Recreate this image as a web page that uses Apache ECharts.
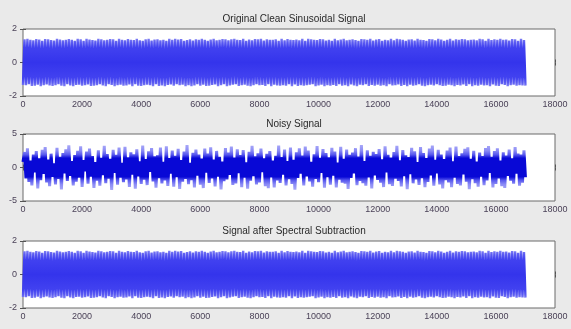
<!DOCTYPE html>
<html>
<head>
<meta charset="utf-8">
<script src="https://cdn.jsdelivr.net/npm/echarts@6/dist/echarts.min.js"></script>
<style>
  html, body { margin: 0; padding: 0; background: #eaeaea; }
  #chart { width: 571px; height: 329px; }
</style>
</head>
<body>
<div id="chart"></div>
<script>
// samples are plotted every 50th index (0 .. 17000)
const step = 50
const xTicks = [0, 2000, 4000, 6000, 8000, 10000, 12000, 14000, 16000, 18000]
const titles = ['Original Clean Sinusoidal Signal', 'Noisy Signal', 'Signal after Spectral Subtraction']

const clean = [
  -1.34, 1.38, -1.35, 1.41, -1.30, 1.36, -1.40, 1.32, -1.38, 1.40,
  -1.33, 1.37, -1.41, 1.29, -1.36, 1.40, -1.31, 1.39, -1.37, 1.34,
  -1.40, 1.31, -1.35, 1.42, -1.29, 1.37, -1.39, 1.33, -1.41, 1.36,
  -1.30, 1.40, -1.37, 1.35, -1.42, 1.30, -1.34, 1.41, -1.32, 1.38,
  -1.39, 1.29, -1.36, 1.42, -1.31, 1.37, -1.40, 1.34, -1.38, 1.31,
  -1.35, 1.41, -1.29, 1.39, -1.37, 1.33, -1.42, 1.36, -1.30, 1.40,
  -1.34, 1.38, -1.41, 1.30, -1.36, 1.42, -1.33, 1.35, -1.39, 1.32,
  -1.37, 1.40, -1.31, 1.36, -1.42, 1.34, -1.29, 1.41, -1.38, 1.33,
  -1.40, 1.30, -1.35, 1.39, -1.32, 1.42, -1.36, 1.31, -1.41, 1.37,
  -1.29, 1.38, -1.40, 1.33, -1.37, 1.35, -1.42, 1.30, -1.34, 1.41,
  -1.31, 1.36, -1.39, 1.42, -1.30, 1.37, -1.35, 1.40, -1.33, 1.29,
  -1.41, 1.34, -1.36, 1.38, -1.42, 1.31, -1.37, 1.39, -1.30, 1.36,
  -1.38, 1.41, -1.32, 1.35, -1.40, 1.29, -1.39, 1.37, -1.34, 1.42,
  -1.31, 1.33, -1.41, 1.36, -1.35, 1.40, -1.29, 1.38, -1.42, 1.32,
  -1.37, 1.39, -1.33, 1.41, -1.30, 1.35, -1.40, 1.34, -1.36, 1.42,
  -1.32, 1.30, -1.38, 1.37, -1.41, 1.33, -1.35, 1.40, -1.29, 1.39,
  -1.36, 1.42, -1.34, 1.31, -1.40, 1.38, -1.30, 1.35, -1.42, 1.36,
  -1.33, 1.39, -1.37, 1.29, -1.38, 1.41, -1.35, 1.32, -1.39, 1.40,
  -1.30, 1.36, -1.42, 1.34, -1.31, 1.37, -1.40, 1.33, -1.36, 1.41,
  -1.38, 1.30, -1.35, 1.42, -1.33, 1.39, -1.29, 1.36, -1.41, 1.34,
  -1.37, 1.40, -1.32, 1.38, -1.42, 1.31, -1.36, 1.35, -1.39, 1.29,
  -1.34, 1.41, -1.40, 1.33, -1.30, 1.37, -1.38, 1.42, -1.35, 1.32,
  -1.41, 1.36, -1.31, 1.39, -1.37, 1.34, -1.42, 1.30, -1.33, 1.40,
  -1.36, 1.38, -1.29, 1.35, -1.40, 1.42, -1.34, 1.31, -1.38, 1.37,
  -1.32, 1.40, -1.39, 1.29, -1.35, 1.36, -1.41, 1.33, -1.30, 1.41,
  -1.37, 1.32, -1.36, 1.42, -1.31, 1.38, -1.40, 1.35, -1.34, 1.30,
  -1.42, 1.37, -1.33, 1.39, -1.38, 1.31, -1.35, 1.41, -1.29, 1.36,
  -1.39, 1.34, -1.41, 1.30, -1.36, 1.40, -1.32, 1.38, -1.37, 1.33,
  -1.30, 1.42, -1.35, 1.37, -1.40, 1.29, -1.38, 1.36, -1.33, 1.41,
  -1.36, 1.31, -1.42, 1.39, -1.34, 1.35, -1.37, 1.40, -1.31, 1.38,
  -1.40, 1.33, -1.29, 1.36, -1.41, 1.37, -1.35, 1.32, -1.39, 1.42,
  -1.33, 1.38, -1.37, 1.30, -1.36, 1.41, -1.42, 1.34, -1.31, 1.39,
  -1.38, 1.35, -1.40, 1.42, -1.30, 1.36, -1.34, 1.37, -1.41, 1.31,
  -1.35, 1.40, -1.33, 1.38, -1.39, 1.29, -1.36, 1.41, -1.37, 1.34,
  -1.38,
]

const noisy = [
  0.84, 2.31, -1.62, 2.87, -2.15, 1.04, -2.68, 1.93, -0.71, 2.45,
  -3.12, 1.37, -1.88, 2.62, -0.95, 3.05, -2.24, 1.18, -2.79, 2.06,
  -1.41, 0.63, -2.53, 2.94, -1.72, 1.59, -3.28, 2.17, -0.88, 2.71,
  -2.02, 3.31, -1.26, 0.97, -2.66, 1.84, -2.11, 2.49, -1.53, 3.16,
  -2.89, 1.12, -0.58, 2.38, -2.42, 2.83, -1.35, 1.71, -3.04, 0.79,
  -1.96, 2.56, -2.71, 1.46, -1.14, 3.22, -2.33, 2.01, -1.67, 1.28,
  -3.36, 2.64, -0.82, 1.89, -2.57, 2.97, -1.49, 0.71, -2.19, 3.09,
  -1.77, 1.53, -2.91, 2.28, -1.06, 1.98, -3.15, 2.73, -1.31, 0.92,
  -2.46, 3.27, -1.83, 1.24, -2.62, 2.41, -0.67, 2.89, -2.08, 1.66,
  -3.01, 1.81, -1.58, 2.99, -2.37, 0.86, -1.92, 3.18, -2.74, 1.41,
  -0.93, 2.52, -2.85, 1.73, -1.44, 2.78, -3.21, 1.09, -2.13, 2.36,
  -1.69, 3.34, -2.49, 0.68, -1.87, 2.19, -2.96, 2.67, -1.21, 1.94,
  -2.58, 1.33, -3.07, 2.84, -0.76, 2.08, -2.29, 3.02, -1.63, 1.19,
  -2.82, 2.47, -1.38, 1.61, -3.26, 0.89, -2.04, 2.91, -1.79, 2.23,
  -1.11, 3.13, -2.61, 1.47, -2.39, 2.72, -0.84, 1.86, -2.94, 2.59,
  -1.52, 0.77, -3.17, 2.33, -1.97, 3.24, -1.29, 1.68, -2.51, 2.12,
  -2.23, 2.81, -0.69, 1.35, -2.77, 2.04, -3.09, 2.44, -1.46, 1.02,
  -2.99, 1.74, -1.91, 3.29, -2.31, 1.57, -1.06, 2.69, -2.69, 0.94,
  -1.74, 2.98, -2.44, 1.16, -3.31, 2.27, -1.57, 2.86, -0.91, 1.79,
  -2.66, 3.11, -1.33, 2.53, -2.08, 0.83, -2.87, 1.97, -1.71, 3.20,
  -2.18, 1.44, -0.79, 2.76, -3.03, 2.14, -1.42, 1.52, -2.55, 2.93,
  -1.23, 2.39, -2.97, 0.74, -1.81, 3.07, -2.28, 1.29, -2.43, 2.66,
  -3.19, 1.91, -1.54, 2.21, -0.87, 2.88, -2.64, 1.63, -1.99, 3.36,
  -2.35, 0.96, -2.72, 2.57, -1.47, 1.76, -3.13, 2.35, -1.16, 2.02,
  -1.85, 2.74, -2.26, 1.21, -2.92, 3.15, -0.73, 1.88, -2.48, 1.49,
  -2.76, 2.29, -1.66, 3.23, -2.01, 1.07, -2.83, 2.61, -1.28, 1.83,
  -3.24, 1.56, -0.98, 2.95, -2.36, 2.42, -1.76, 0.81, -2.59, 3.04,
  -1.61, 2.16, -2.95, 1.39, -2.16, 2.82, -1.19, 3.26, -2.71, 1.14,
  -0.86, 2.63, -2.52, 1.94, -3.11, 1.26, -1.89, 2.54, -2.21, 2.99,
  -2.93, 0.91, -1.51, 3.14, -2.45, 1.69, -2.67, 2.11, -1.02, 2.79,
  -2.12, 3.01, -3.22, 1.31, -1.73, 2.49, -2.34, 0.87, -2.86, 2.24,
  -1.37, 1.71, -2.63, 2.91, -1.94, 3.19, -0.81, 1.58, -2.98, 2.46,
  -2.47, 2.85, -1.64, 1.03, -2.78, 2.26, -3.06, 1.77, -1.26, 2.68,
  -1.98, 1.36, -2.41, 3.06, -0.92, 2.07, -2.73, 1.92, -2.27, 2.58,
  -1.45,
]

// the recovered signal reads the same as the clean one in the picture
const recovered = clean

const yRanges = [[-2, 2, 2], [-5, 5, 5], [-2, 2, 2]]
const signals = [clean, noisy, recovered]
const tops = [29, 134, 241]
const plotHeight = 67

const chart = echarts.init(document.getElementById('chart'))

const toPairs = (vals) => vals.map((v, i) => [i * step, v])
const labelColor = '#4b4258'
const font = 'Arial, "Liberation Sans", sans-serif'

// vertical shading over the plot box: lighter at the outer edges, denser in the middle
const cleanStops = [
  { offset: 0.12, color: '#9090f6' },
  { offset: 0.2, color: '#5a5af2' },
  { offset: 0.27, color: '#4242f0' },
  { offset: 0.5, color: '#3434ec' },
  { offset: 0.73, color: '#4242f0' },
  { offset: 0.8, color: '#5a5af2' },
  { offset: 0.88, color: '#9090f6' },
]
const noisyStops = [
  { offset: 0.15, color: '#aeaef8' },
  { offset: 0.25, color: '#8a8af5' },
  { offset: 0.31, color: '#5656ee' },
  { offset: 0.36, color: '#0808d6' },
  { offset: 0.64, color: '#0808d6' },
  { offset: 0.69, color: '#5656ee' },
  { offset: 0.75, color: '#8a8af5' },
  { offset: 0.85, color: '#aeaef8' },
]
const boxGradient = (top, stops) =>
  new echarts.graphic.LinearGradient(0, top, 0, top + plotHeight, stops, true)

const grid = [], xAxis = [], yAxis = [], series = [], title = []
tops.forEach((top, k) => {
  grid.push({
    left: 23, right: 16, top, height: plotHeight,
    show: true, backgroundColor: '#fff', borderColor: '#6a6a6a', borderWidth: 1,
  })
  title.push({
    text: titles[k], left: 289, top: top - 20, textAlign: 'center',
    textStyle: { fontSize: 10, fontWeight: 'normal', color: '#2a2a2a', fontFamily: font },
  })
  const [ymin, ymax, yint] = yRanges[k]
  ;['bottom', 'top'].forEach((pos) => {
    xAxis.push({
      type: 'value', gridIndex: k, position: pos, min: 0, max: 18000, interval: 2000,
      axisLine: { show: false }, splitLine: { show: false },
      axisTick: { show: true, inside: true, length: 3, lineStyle: { color: '#555' } },
      axisLabel: {
        show: pos === 'bottom', color: labelColor, fontSize: 9, margin: 4, fontFamily: font,
        formatter: (v) => (xTicks.includes(v) ? String(v) : ''),
      },
    })
  })
  ;['left', 'right'].forEach((pos) => {
    yAxis.push({
      type: 'value', gridIndex: k, position: pos, min: ymin, max: ymax, interval: yint,
      axisLine: { show: false }, splitLine: { show: false },
      axisTick: { show: true, inside: true, length: 3, lineStyle: { color: '#555' } },
      axisLabel: { show: pos === 'left', color: labelColor, fontSize: 9, margin: 6, fontFamily: font },
    })
  })
  const isNoisy = k === 1
  series.push({
    type: 'line',
    xAxisIndex: k * 2,
    yAxisIndex: k * 2,
    data: toPairs(signals[k]),
    showSymbol: false,
    sampling: false,
    silent: true,
    z: 2,
    lineStyle: {
      width: isNoisy ? 3 : 2.4,
      join: 'bevel',
      color: boxGradient(top, isNoisy ? noisyStops : cleanStops),
    },
  })
})

chart.setOption({
  backgroundColor: '#eaeaea',
  animation: false,
  title, grid, xAxis, yAxis, series,
})
</script>
</body>
</html>
